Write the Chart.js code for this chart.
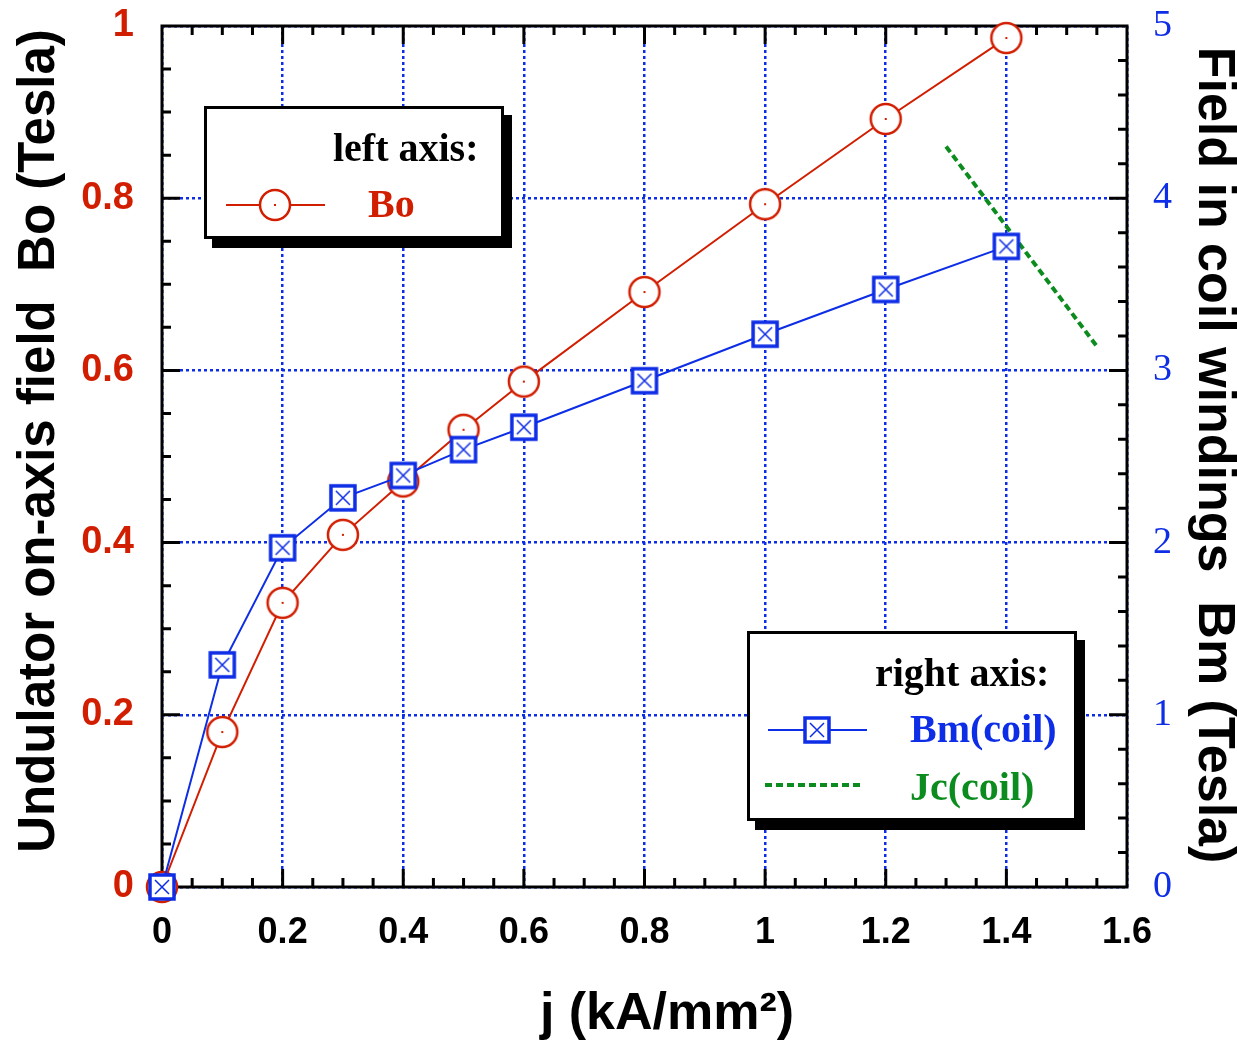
<!DOCTYPE html>
<html lang="en">
<head>
    <meta charset="UTF-8">
    <title>Undulator field vs current density</title>
    <script src="https://cdn.jsdelivr.net/npm/chart.js"></script>
    <style>
        body { margin: 0; background: #fff; }
    </style>
</head>
<body>
    <canvas id="myChart" width="1237" height="1041"></canvas>

    <script>
        // current density j (kA/mm^2)
        const jValues = [0, 0.1, 0.2, 0.3, 0.4, 0.5, 0.6, 0.8, 1.0, 1.2, 1.4];
        // left axis: on-axis field Bo (T)
        const boValues = [0, 0.18, 0.33, 0.409, 0.471, 0.531, 0.587, 0.691, 0.793, 0.892, 0.986];
        // right axis: field in coil Bm (T)
        const bmValues = [0, 1.29, 1.97, 2.26, 2.39, 2.54, 2.67, 2.94, 3.21, 3.47, 3.72];
        // critical current line Jc(coil), right axis
        const jcJ = [1.3, 1.55];
        const jcValues = [4.3, 3.14];

        const xTicks = [0, 0.2, 0.4, 0.6, 0.8, 1, 1.2, 1.4, 1.6];
        const leftTicks = [0, 0.2, 0.4, 0.6, 0.8, 1];
        const rightTicks = [0, 1, 2, 3, 4, 5];

        const RED = '#d21e00';
        const BLUE = '#0d2de6';
        const GREEN = '#0c8c1e';

        function circleMark() {
            const c = document.createElement('canvas');
            c.width = c.height = 36;
            const g = c.getContext('2d');
            g.fillStyle = '#fff';
            g.strokeStyle = RED;
            g.lineWidth = 2.5;
            g.beginPath();
            g.arc(18, 18, 15, 0, 2 * Math.PI);
            g.fill();
            g.stroke();
            g.fillStyle = RED;
            g.fillRect(17, 17, 2, 2);
            return c;
        }

        function squareMark() {
            const c = document.createElement('canvas');
            c.width = c.height = 30;
            const g = c.getContext('2d');
            g.fillStyle = '#fff';
            g.fillRect(2, 2, 26, 26);
            g.strokeStyle = BLUE;
            g.lineWidth = 3.5;
            g.strokeRect(3, 3, 24, 24);
            g.lineWidth = 1.5;
            g.beginPath();
            g.moveTo(8, 8); g.lineTo(22, 22);
            g.moveTo(22, 8); g.lineTo(8, 22);
            g.stroke();
            return c;
        }

        const circleImg = circleMark();
        const squareImg = squareMark();

        function ticksFrom(list) {
            return function (scale) {
                scale.ticks = list.map(v => ({ value: v }));
            };
        }
        const plainLabel = v => String(+v.toFixed(2));

        const framePlugin = {
            id: 'frame',
            beforeDatasetsDraw(chart) {
                const { ctx, chartArea: a, scales } = chart;
                ctx.save();
                ctx.strokeStyle = '#000';
                ctx.lineWidth = 3;
                ctx.setLineDash([]);
                ctx.strokeRect(a.left, a.top, a.right - a.left, a.bottom - a.top);

                ctx.beginPath();
                // bottom and top ticks, every 0.05
                for (let i = 1; i < 32; i++) {
                    const px = scales.x.getPixelForValue(i * 0.05);
                    const len = i % 4 === 0 ? 18 : 9;
                    ctx.moveTo(px, a.bottom); ctx.lineTo(px, a.bottom - len);
                    ctx.moveTo(px, a.top); ctx.lineTo(px, a.top + len);
                }
                // left ticks, every 0.05
                for (let i = 1; i < 20; i++) {
                    const py = scales.y.getPixelForValue(i * 0.05);
                    const len = i % 4 === 0 ? 18 : 9;
                    ctx.moveTo(a.left, py); ctx.lineTo(a.left + len, py);
                }
                // right ticks, every 0.2
                for (let i = 1; i < 25; i++) {
                    const py = scales.y2.getPixelForValue(i * 0.2);
                    const len = i % 5 === 0 ? 18 : 9;
                    ctx.moveTo(a.right, py); ctx.lineTo(a.right - len, py);
                }
                ctx.stroke();
                ctx.restore();
            },
            afterDraw(chart) {
                const ctx = chart.ctx;
                ctx.save();
                ctx.fillStyle = '#000';
                ctx.textAlign = 'center';
                ctx.textBaseline = 'middle';

                ctx.save();
                ctx.font = 'bold 51px "Liberation Sans", Arial, sans-serif';
                ctx.translate(40, 441);
                ctx.rotate(-Math.PI / 2);
                ctx.fillText('Undulator on-axis field  Bo (Tesla)', 0, 0);
                ctx.restore();

                ctx.save();
                ctx.font = 'bold 52px "Liberation Sans", Arial, sans-serif';
                ctx.translate(1213, 455);
                ctx.rotate(Math.PI / 2);
                ctx.fillText('Field in coil windings  Bm (Tesla)', 0, 0);
                ctx.restore();

                ctx.font = 'bold 52px "Liberation Sans", Arial, sans-serif';
                ctx.textBaseline = 'alphabetic';
                ctx.fillText('j (kA/mm\u00B2)', 667, 1029);

                // legend boxes
                function box(x, y, w, h) {
                    ctx.fillStyle = '#000';
                    ctx.fillRect(x + 8, y + 9, w, h);
                    ctx.fillStyle = '#fff';
                    ctx.fillRect(x, y, w, h);
                    ctx.lineWidth = 3;
                    ctx.strokeStyle = '#000';
                    ctx.strokeRect(x + 1.5, y + 1.5, w - 3, h - 3);
                }
                ctx.textAlign = 'left';
                ctx.font = 'bold 40px "Liberation Serif", "Times New Roman", serif';

                box(204, 106, 300, 133);
                ctx.fillStyle = '#000';
                ctx.fillText('left axis:', 333, 161);
                ctx.strokeStyle = RED;
                ctx.lineWidth = 2;
                ctx.beginPath();
                ctx.moveTo(226, 205); ctx.lineTo(325, 205);
                ctx.stroke();
                ctx.drawImage(circleImg, 275 - 18, 205 - 18);
                ctx.fillStyle = RED;
                ctx.fillText('Bo', 368, 217);

                box(747, 631, 330, 190);
                ctx.fillStyle = '#000';
                ctx.fillText('right axis:', 875, 686);
                ctx.strokeStyle = BLUE;
                ctx.lineWidth = 2;
                ctx.beginPath();
                ctx.moveTo(768, 730); ctx.lineTo(867, 730);
                ctx.stroke();
                ctx.drawImage(squareImg, 817 - 15, 730 - 15);
                ctx.fillStyle = BLUE;
                ctx.fillText('Bm(coil)', 910, 742);

                ctx.strokeStyle = GREEN;
                ctx.lineWidth = 4;
                ctx.setLineDash([7, 4]);
                ctx.beginPath();
                ctx.moveTo(765, 785); ctx.lineTo(864, 785);
                ctx.stroke();
                ctx.setLineDash([]);
                ctx.fillStyle = GREEN;
                ctx.fillText('Jc(coil)', 910, 800);
                ctx.restore();
            }
        };

        const ctx = document.getElementById('myChart').getContext('2d');
        new Chart(ctx, {
            type: 'line',
            data: {
                datasets: [
                    {
                        label: 'Bm(coil)',
                        data: jValues.map((j, i) => ({ x: j, y: bmValues[i] })),
                        yAxisID: 'y2',
                        borderColor: BLUE,
                        borderWidth: 2,
                        pointStyle: squareImg,
                        clip: false
                    },
                    {
                        label: 'Bo',
                        data: jValues.map((j, i) => ({ x: j, y: boValues[i] })),
                        yAxisID: 'y',
                        borderColor: RED,
                        borderWidth: 2,
                        pointStyle: circleImg,
                        clip: false
                    },
                    {
                        label: 'Jc(coil)',
                        data: jcJ.map((j, i) => ({ x: j, y: jcValues[i] })),
                        yAxisID: 'y2',
                        borderColor: GREEN,
                        borderWidth: 4,
                        borderDash: [7, 4],
                        pointRadius: 0,
                        clip: false
                    }
                ]
            },
            options: {
                responsive: false,
                animation: false,
                layout: { padding: { top: 26, left: 0, right: 0, bottom: 0 } },
                plugins: { legend: { display: false }, tooltip: { enabled: false } },
                scales: {
                    x: {
                        type: 'linear',
                        min: 0, max: 1.6,
                        afterBuildTicks: ticksFrom(xTicks),
                        afterFit(scale) {
                            scale.height = 154;
                            scale.paddingLeft = 0;
                            scale.paddingRight = 0;
                        },
                        grid: { color: BLUE, lineWidth: 2.5, drawTicks: false },
                        border: { display: false, dash: [3, 3] },
                        ticks: {
                            color: '#000',
                            padding: 24,
                            maxRotation: 0,
                            callback: plainLabel,
                            font: { family: '"Liberation Sans", Arial, sans-serif', size: 36, weight: 'bold' }
                        }
                    },
                    y: {
                        type: 'linear',
                        position: 'left',
                        min: 0, max: 1,
                        afterBuildTicks: ticksFrom(leftTicks),
                        afterFit(scale) {
                            scale.width = 162;
                            scale.paddingTop = 0;
                            scale.paddingBottom = 0;
                        },
                        grid: { color: BLUE, lineWidth: 2.5, drawTicks: false },
                        border: { display: false, dash: [3, 3] },
                        ticks: {
                            color: RED,
                            padding: 28,
                            callback: plainLabel,
                            font: { family: '"Liberation Sans", Arial, sans-serif', size: 38, weight: 'bold' }
                        }
                    },
                    y2: {
                        type: 'linear',
                        position: 'right',
                        min: 0, max: 5,
                        afterBuildTicks: ticksFrom(rightTicks),
                        afterFit(scale) {
                            scale.width = 110;
                            scale.paddingTop = 0;
                            scale.paddingBottom = 0;
                        },
                        grid: { display: false, drawTicks: false },
                        border: { display: false },
                        ticks: {
                            color: BLUE,
                            padding: 26,
                            callback: plainLabel,
                            font: { family: '"Liberation Serif", "Times New Roman", serif', size: 38 }
                        }
                    }
                }
            },
            plugins: [framePlugin]
        });
    </script>
</body>
</html>
